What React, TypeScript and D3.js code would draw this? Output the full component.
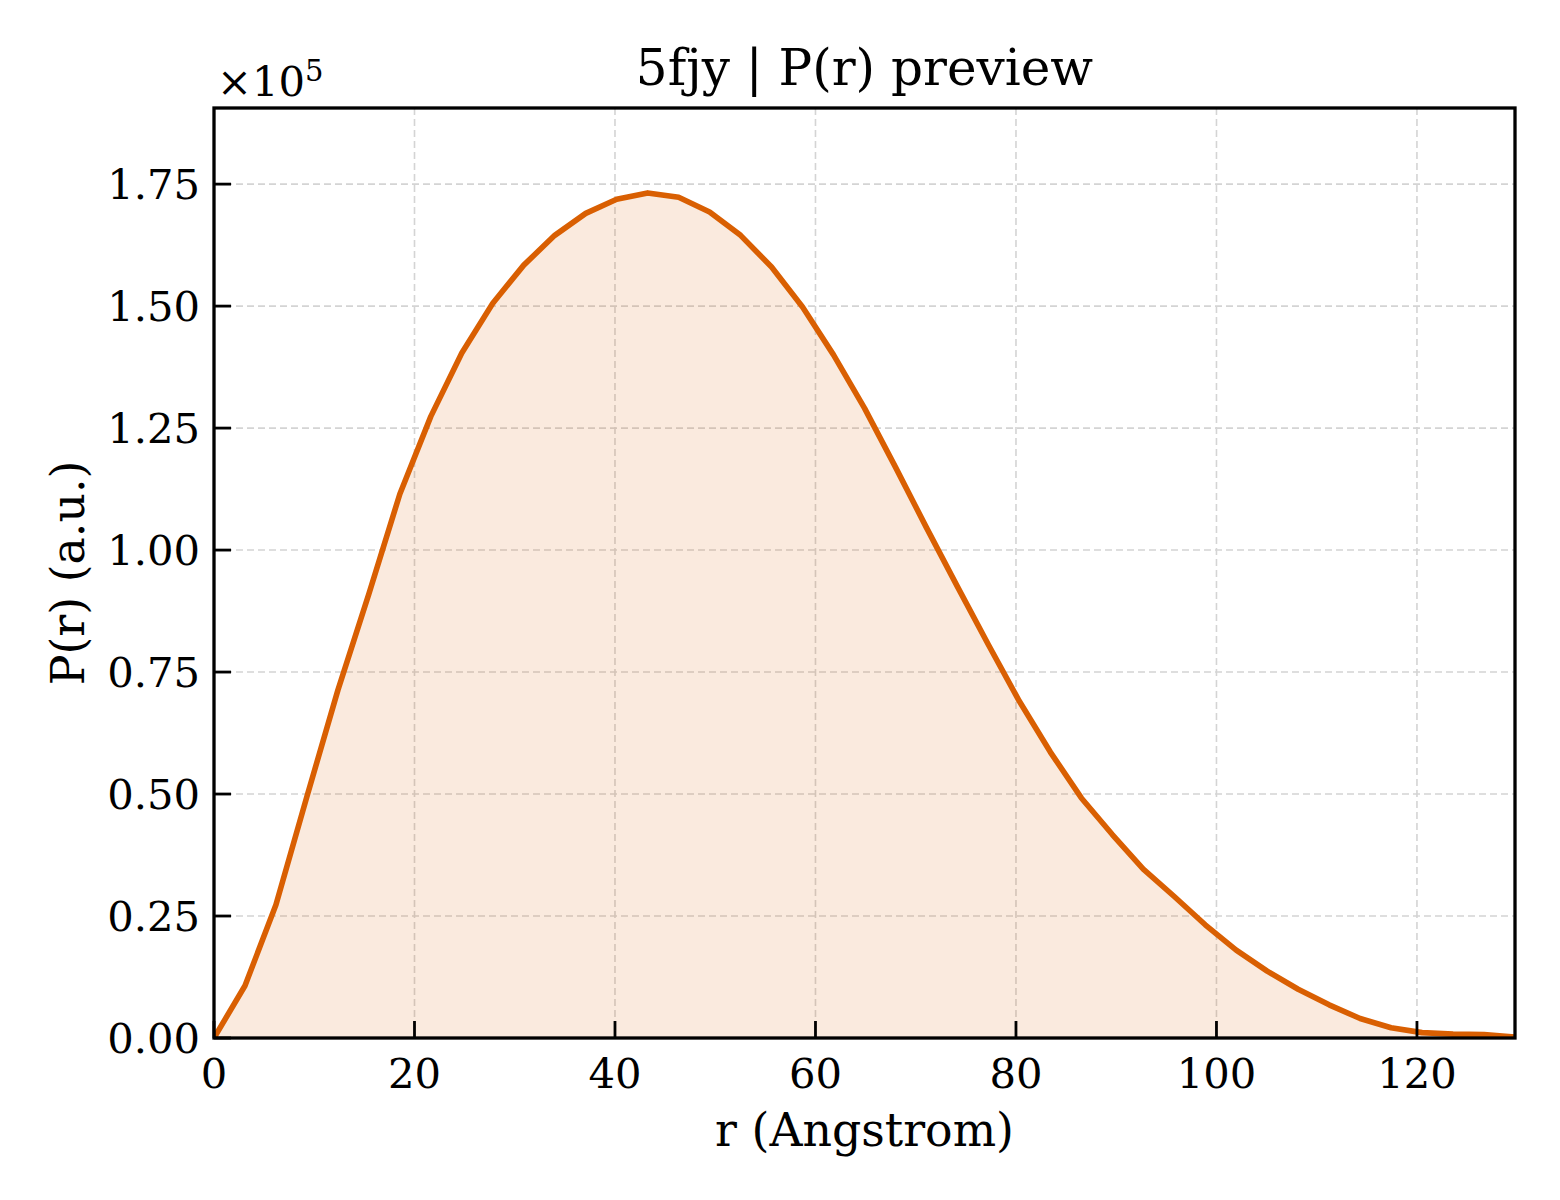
import React from "react";
import * as d3 from "d3";

const rValues: number[] = [
  0, 3.09, 6.18, 9.27, 12.36, 15.45, 18.54, 21.63, 24.72, 27.81,
  30.9, 33.99, 37.08, 40.17, 43.26, 46.35, 49.44, 52.53, 55.62, 58.71,
  61.8, 64.89, 67.98, 71.07, 74.16, 77.25, 80.34, 83.43, 86.52, 89.61,
  92.7, 95.79, 98.88, 101.97, 105.06, 108.15, 111.24, 114.33, 117.42, 120.51,
  123.6, 126.69, 129.78,
];
const prValues: number[] = [
  0, 0.107, 0.273, 0.495, 0.713, 0.91, 1.115, 1.274, 1.404, 1.506,
  1.584, 1.645, 1.69, 1.719, 1.732, 1.723, 1.693, 1.645, 1.58, 1.498,
  1.4, 1.291, 1.17, 1.046, 0.925, 0.806, 0.69, 0.586, 0.492, 0.417,
  0.346, 0.29, 0.232, 0.18, 0.137, 0.1, 0.068, 0.04, 0.021, 0.011,
  0.008, 0.007, 0.002,
];
const xTicks: number[] = [0, 20, 40, 60, 80, 100, 120];
const yTicks: number[] = [0, 0.25, 0.5, 0.75, 1.0, 1.25, 1.5, 1.75];

const title = "5fjy | P(r) preview";
const xLabel = "r (Angstrom)";
const yLabel = "P(r) (a.u.)";

export default function App() {
  const W = 1560;
  const H = 1200;
  const left = 214;
  const right = 1515;
  const top = 108;
  const bottom = 1038;
  const color = "#d95f02";
  const font = "'DejaVu Serif', serif";

  const x = d3.scaleLinear().domain([0, 129.78]).range([left, right]);
  const y = d3.scaleLinear().domain([0, 1.906]).range([bottom, top]);

  const pts = rValues.map((r, i) => [r, prValues[i]] as [number, number]);
  const line = d3
    .line<[number, number]>()
    .x((d) => x(d[0]))
    .y((d) => y(d[1]));
  const area = d3
    .area<[number, number]>()
    .x((d) => x(d[0]))
    .y0(y(0))
    .y1((d) => y(d[1]));

  const tickLen = 17;

  return (
    <svg
      width={W}
      height={H}
      style={{ position: "absolute", left: 0, top: 0, background: "#fff" }}
      fontFamily={font}
    >
      <rect x={0} y={0} width={W} height={H} fill="#fff" />
      <defs>
        <clipPath id="plotclip">
          <rect x={left} y={top} width={right - left} height={bottom - top} />
        </clipPath>
      </defs>
      {/* grid */}
      <g stroke="#d4d4d4" strokeWidth={1.6} strokeDasharray="7,4">
        {xTicks.map((t) => (
          <line key={"gx" + t} x1={x(t)} x2={x(t)} y1={top} y2={bottom} />
        ))}
        {yTicks.map((t) => (
          <line key={"gy" + t} x1={left} x2={right} y1={y(t)} y2={y(t)} />
        ))}
      </g>
      <g clipPath="url(#plotclip)">
        <path d={area(pts) || ""} fill={color} fillOpacity={0.13} stroke="none" />
        <path
          d={line(pts) || ""}
          fill="none"
          stroke={color}
          strokeWidth={5.6}
          strokeLinejoin="round"
          strokeLinecap="butt"
        />
      </g>
      {/* ticks */}
      <g stroke="#000" strokeWidth={2.8}>
        {xTicks.map((t) => (
          <line key={"tx" + t} x1={x(t)} x2={x(t)} y1={bottom} y2={bottom - tickLen} />
        ))}
        {yTicks.map((t) => (
          <line key={"ty" + t} x1={left} x2={left + tickLen} y1={y(t)} y2={y(t)} />
        ))}
      </g>
      {/* frame */}
      <rect
        x={left}
        y={top}
        width={right - left}
        height={bottom - top}
        fill="none"
        stroke="#000"
        strokeWidth={3.3}
      />
      {/* tick labels */}
      <g fontSize={41.7} fill="#000">
        {xTicks.map((t) => (
          <text key={"lx" + t} x={x(t)} y={bottom + 50} textAnchor="middle">
            {String(t)}
          </text>
        ))}
        {yTicks.map((t) => (
          <text
            key={"ly" + t}
            x={left - 14}
            y={y(t) + 15}
            textAnchor="end"
          >
            {t.toFixed(2)}
          </text>
        ))}
      </g>
      {/* offset text */}
      <text x={left + 3} y={96} fontSize={41.7} fill="#000">
        ×10
        <tspan fontSize={29} dy={-15}>
          5
        </tspan>
      </text>
      {/* title */}
      <text x={(left + right) / 2} y={85} fontSize={50} textAnchor="middle" fill="#000">
        {title}
      </text>
      {/* axis labels */}
      <text
        x={(left + right) / 2}
        y={1146}
        fontSize={45.8}
        textAnchor="middle"
        fill="#000"
      >
        {xLabel}
      </text>
      <text
        transform={`translate(84, ${(top + bottom) / 2}) rotate(-90)`}
        fontSize={45.8}
        textAnchor="middle"
        fill="#000"
      >
        {yLabel}
      </text>
    </svg>
  );
}
